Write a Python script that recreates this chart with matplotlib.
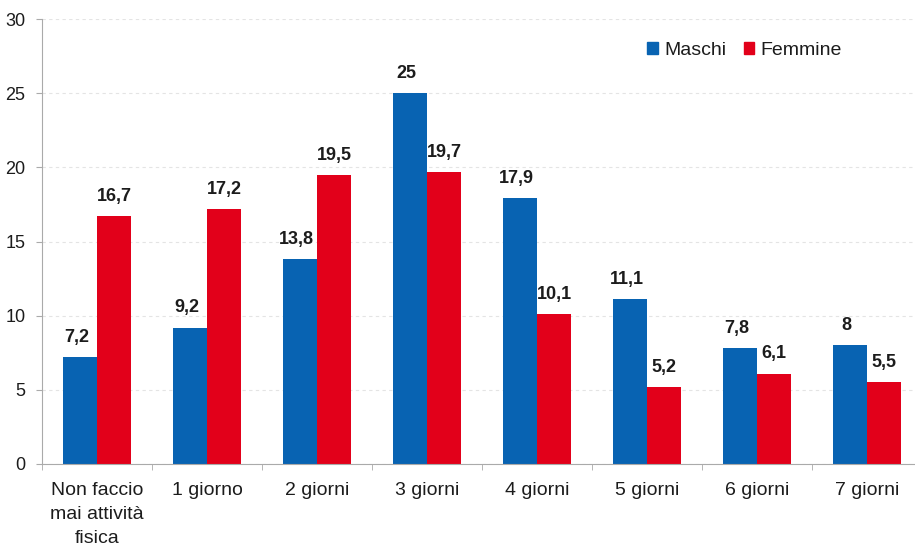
import numpy as np
import matplotlib.pyplot as plt
from matplotlib.patches import Patch

plt.rcParams['font.family'] = ['Liberation Sans', 'DejaVu Sans']

categories = ['Non faccio\nmai attività\nfisica', '1 giorno', '2 giorni', '3 giorni',
              '4 giorni', '5 giorni', '6 giorni', '7 giorni']
maschi = [7.2, 9.2, 13.8, 25, 17.9, 11.1, 7.8, 8]
femmine = [16.7, 17.2, 19.5, 19.7, 10.1, 5.2, 6.1, 5.5]

blue = '#0863b2'
red = '#e2001a'
txt = '#1c1c1c'

fig = plt.figure(figsize=(9.15, 5.47), dpi=100)
ax = fig.add_axes([42/915, 83/547, 880/915, 445/547])

x = np.arange(len(categories))
w = 0.31
ax.bar(x - w/2, maschi, w, color=blue, zorder=2)
ax.bar(x + w/2, femmine, w, color=red, zorder=2)

def fmt(v):
    return f'{v:g}'.replace('.', ',')

for xi, v in zip(x - w/2, maschi):
    ax.annotate(fmt(v), (xi - 0.03, v), xytext=(0, 8), textcoords='offset points',
                ha='center', va='bottom', fontsize=13, fontweight='bold', color=txt)
for xi, v in zip(x + w/2, femmine):
    ax.annotate(fmt(v), (xi, v), xytext=(0, 8), textcoords='offset points',
                ha='center', va='bottom', fontsize=13, fontweight='bold', color=txt)

ax.set_xlim(-0.5, 7.5)
ax.set_ylim(0, 30)
ax.set_yticks(range(0, 31, 5))
ax.set_xticks(x)
ax.set_xticklabels(categories, fontsize=14, color=txt, linespacing=1.55)
ax.set_xticks(np.arange(-0.5, 8, 1), minor=True)
ax.tick_params(axis='x', which='major', length=0, pad=13)
ax.tick_params(axis='x', which='minor', length=4, color='#aaaaaa', direction='out')
ax.tick_params(axis='y', labelsize=13, length=4, color='#aaaaaa', labelcolor=txt, pad=8)

ax.grid(axis='y', linestyle=(0, (3, 3)), color='#e4e4e4', linewidth=0.8, zorder=0)
for s in ['top', 'right']:
    ax.spines[s].set_visible(False)
ax.spines['left'].set_color('#aaaaaa')
ax.spines['bottom'].set_color('#aaaaaa')

handles = [Patch(color=blue, label='Maschi'), Patch(color=red, label='Femmine')]
ax.legend(handles=handles, loc='center left', bbox_to_anchor=(0.688, 0.93), ncol=2, frameon=False,
          fontsize=14, handlelength=0.55, handleheight=0.55, handletextpad=0.3, columnspacing=0.9,
          borderpad=0, borderaxespad=0, labelcolor=txt)

fig.savefig('out.png', dpi=100)
